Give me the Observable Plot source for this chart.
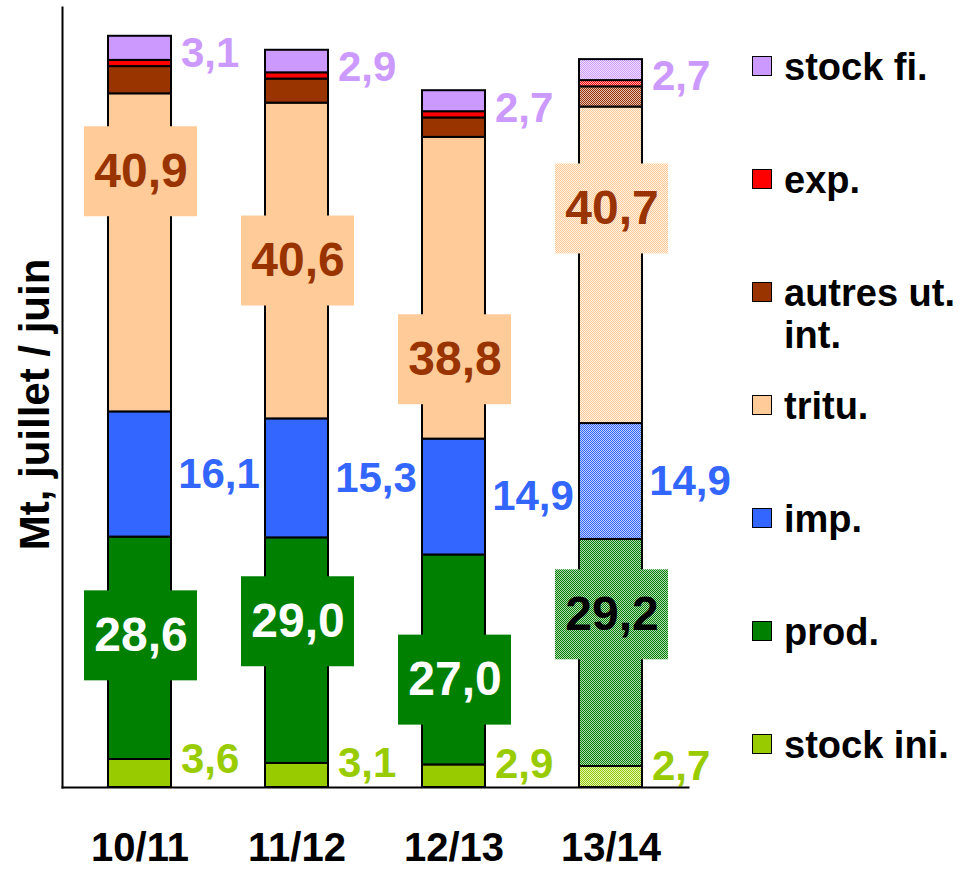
<!DOCTYPE html>
<html>
<head>
<meta charset="utf-8">
<script src="https://cdn.jsdelivr.net/npm/d3@7"></script>
<script src="https://cdn.jsdelivr.net/npm/@observablehq/plot@0.6"></script>
<style>
  html, body { margin: 0; padding: 0; background: #fff; }
  #wrap { position: relative; width: 961px; height: 869px; font-family: "Liberation Sans", Arial, sans-serif; }
  #legend { position: absolute; left: 752px; top: 0; }
  .lrow { position: absolute; left: 0; display: flex; align-items: flex-start; white-space: nowrap; }
  .lsw { width: 20px; height: 20px; border: 1.5px solid #000; margin-top: 10px; margin-right: 12px; box-sizing: border-box; }
  .ltx { font-size: 38px; font-weight: bold; line-height: 42px; color: #000; }
</style>
</head>
<body>
<div id="wrap"><div id="chart"></div><div id="legend"></div></div>
<script>
// ---- data ----
const years   = ["10/11", "11/12", "12/13", "13/14"];
const stockIni = [3.6, 3.1, 2.9, 2.7];
const prod     = [28.6, 29.0, 27.0, 29.2];
const imp      = [16.1, 15.3, 14.9, 14.9];
const tritu    = [40.9, 40.6, 38.8, 40.7];
const autres   = [3.5, 3.1, 2.5, 2.6];
const exp      = [0.8, 0.8, 0.8, 0.8];
const stockFi  = [3.1, 2.9, 2.7, 2.7];
const legendLabels = ["stock ini.", "prod.", "imp.", "tritu.", "autres ut.\nint.", "exp.", "stock fi."];
const yTitle = "Mt, juillet / juin";
const forecastYear = "13/14";

// ---- layout / style ----
const colors = {stockIni: "#99CC00", prod: "#008000", imp: "#3366FF", tritu: "#FFCC99", autres: "#993300", exp: "#FF0000", stockFi: "#CC99FF"};
const trituLabelFrac = [0.755, 0.5, 0.263, 0.678];
const prodLabelFrac  = [0.556, 0.628, 0.404, 0.668];

const series = [
  {key: "stockIni", values: stockIni},
  {key: "prod", values: prod},
  {key: "imp", values: imp},
  {key: "tritu", values: tritu},
  {key: "autres", values: autres},
  {key: "exp", values: exp},
  {key: "stockFi", values: stockFi}
];
const fillFor = (key, yr) => yr === forecastYear ? `url(#pat-${key})` : colors[key];
const fmt = v => v.toFixed(1).replace(".", ",");

const rows = [];
const seg = {};
years.forEach((yr, i) => {
  let acc = 0;
  series.forEach(s => {
    const v = s.values[i];
    rows.push({year: yr, key: s.key, y1: acc, y2: acc + v, fill: fillFor(s.key, yr)});
    seg[s.key + i] = [acc, acc + v];
    acc += v;
  });
});

const trituBoxes = years.map((yr, i) => {
  const [a, b] = seg["tritu" + i];
  return {year: yr, c: a + trituLabelFrac[i] * (b - a), text: fmt(tritu[i]), fill: fillFor("tritu", yr), color: "#993300"};
});
const prodBoxes = years.map((yr, i) => {
  const [a, b] = seg["prod" + i];
  return {year: yr, c: a + prodLabelFrac[i] * (b - a), text: fmt(prod[i]), fill: fillFor("prod", yr), color: yr === forecastYear ? "#000000" : "#FFFFFF"};
});
const boxes = trituBoxes.concat(prodBoxes);
const impLabels = years.map((yr, i) => ({year: yr, y: (seg["imp" + i][0] + seg["imp" + i][1]) / 2, text: fmt(imp[i])}));
const iniLabels = years.map((yr, i) => ({year: yr, y: seg["stockIni" + i][1], text: fmt(stockIni[i])}));
const fiLabels = years.map((yr, i) => ({year: yr, y: seg["stockFi" + i][1], text: fmt(stockFi[i])}));

const bold = {fontWeight: "bold"};
const plot = Plot.plot({
  width: 961,
  height: 869,
  marginLeft: 62,
  marginRight: 273,
  marginTop: 7,
  marginBottom: 82,
  style: {fontFamily: "'Liberation Sans', Arial, sans-serif", background: "#fff"},
  x: {domain: years, paddingInner: 0.6, paddingOuter: 0.29, axis: null},
  y: {domain: [0, 100.3], axis: null},
  color: {type: "identity"},
  marks: [
    Plot.barY(rows, {x: "year", y1: "y1", y2: "y2", fill: "fill", stroke: "#000", strokeWidth: 2}),
    Plot.barY(boxes, {x: "year", y1: "c", y2: "c", fill: "fill", insetTop: -45, insetBottom: -45, insetLeft: -24, insetRight: -26}),
    Plot.text(boxes, {x: "year", y: "c", text: "text", fill: "color", fontSize: 48, ...bold, dx: 1, lineAnchor: "middle"}),
    Plot.text(impLabels, {x: "year", y: "y", text: "text", fill: "#3366FF", fontSize: 42, ...bold, dx: 79, textAnchor: "middle", lineAnchor: "middle"}),
    Plot.text(iniLabels, {x: "year", y: "y", text: "text", fill: "#99CC00", fontSize: 42, ...bold, dx: 41, textAnchor: "start", lineAnchor: "middle"}),
    Plot.text(fiLabels, {x: "year", y: "y", text: "text", fill: "#CC99FF", fontSize: 42, ...bold, dx: 41, dy: 1, textAnchor: "start", lineAnchor: "top"}),
    Plot.text(years, {x: d => d, text: d => d, frameAnchor: "bottom", dy: 61, fontSize: 40, ...bold, fill: "#000", textAnchor: "middle", lineAnchor: "middle"}),
    Plot.text([yTitle], {text: d => d, frameAnchor: "left", dx: -27, dy: 7, rotate: -90, fontSize: 42, ...bold, fill: "#000", textAnchor: "middle", lineAnchor: "middle"}),
    Plot.frame({anchor: "left", stroke: "#000", strokeWidth: 2}),
    Plot.frame({anchor: "bottom", stroke: "#000", strokeWidth: 2})
  ]
});

// dotted patterns for the forecast year
const defs = d3.select(plot).insert("defs", ":first-child");
Object.entries(colors).forEach(([key, col]) => {
  const p = defs.append("pattern").attr("id", "pat-" + key).attr("patternUnits", "userSpaceOnUse").attr("width", 2).attr("height", 2);
  p.append("rect").attr("width", 2).attr("height", 2).attr("fill", col);
  p.append("rect").attr("x", 1).attr("y", 0).attr("width", 1).attr("height", 1).attr("fill", "#fff").attr("fill-opacity", 0.7);
  p.append("rect").attr("x", 0).attr("y", 1).attr("width", 1).attr("height", 1).attr("fill", "#fff").attr("fill-opacity", 0.7);
});
document.getElementById("chart").appendChild(plot);

// legend (top to bottom: reverse stack order)
const legend = document.getElementById("legend");
const order = series.map((s, i) => ({key: s.key, label: legendLabels[i]})).reverse();
order.forEach((d, i) => {
  const row = document.createElement("div");
  row.className = "lrow";
  row.style.top = (46 + i * 113) + "px";
  const sw = document.createElement("div");
  sw.className = "lsw";
  sw.style.background = colors[d.key];
  const tx = document.createElement("div");
  tx.className = "ltx";
  tx.innerHTML = d.label.split("\n").join("<br>");
  row.appendChild(sw);
  row.appendChild(tx);
  legend.appendChild(row);
});
</script>
</body>
</html>
